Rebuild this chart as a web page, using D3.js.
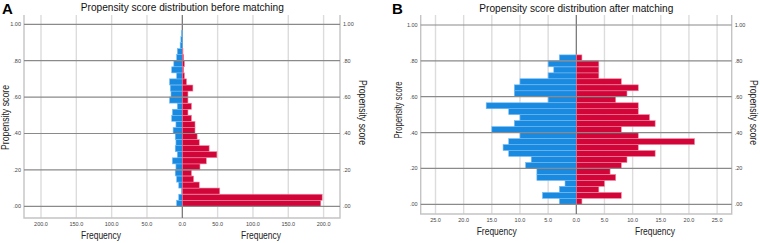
<!DOCTYPE html>
<html>
<head>
<meta charset="utf-8">
<script src="https://cdn.jsdelivr.net/npm/d3@7"></script>
<style>
  body { margin: 0; background: #fff; }
  svg { display: block; font-family: "Liberation Sans", Arial, sans-serif; }
</style>
</head>
<body>
<svg id="chart" width="760" height="243"></svg>
<script>
// lower edge of each propensity score bin (bin width 1/30)
const binStarts = [0.000, 0.033, 0.067, 0.100, 0.133, 0.167, 0.200, 0.233, 0.267, 0.300,
                   0.333, 0.367, 0.400, 0.433, 0.467, 0.500, 0.533, 0.567, 0.600, 0.633,
                   0.667, 0.700, 0.733, 0.767, 0.800, 0.833, 0.867, 0.900, 0.933];
const binWidth = 1 / 30;

// before matching (left = blue, right = red)
const blueBefore = [8, 5, 1, 5, 8, 10, 9, 14, 7, 10, 9, 10, 13, 9, 15, 14, 7, 18, 16, 17, 18, 8, 15, 12, 8, 7, 3, 2, 1];
const redBefore  = [196, 198, 53, 24, 16, 13, 25, 34, 49, 38, 24, 21, 18, 18, 13, 8, 13, 8, 8, 15, 6, 3, 2, 3, 2, 1, 0, 0, 0];

// after matching
const blueAfter = [3, 6, 3, 2, 7, 7, 9, 8, 12, 13, 12, 10, 15, 11, 10, 12, 16, 5, 11, 11, 10, 5, 4, 5, 3];
const redAfter  = [1, 8, 4, 5, 7, 6, 8, 9, 14, 11, 21, 11, 8, 14, 13, 11, 11, 7, 9, 11, 8, 4, 4, 4, 1];

const yTicks = [0, 0.2, 0.4, 0.6, 0.8, 1.0];
const yTickLabels = [".00", ".20", ".40", ".60", ".80", "1.00"];
const freqTicksA = [-200, -150, -100, -50, 0, 50, 100, 150, 200];
const freqTicksB = [-25, -20, -15, -10, -5, 0, 5, 10, 15, 20, 25];

const blue = "#1a89e0", blueEdge = "#74bdf4";
const red = "#d10538", redEdge = "#ee8aa3";

const svg = d3.select("#chart");

function drawPanel(p) {
  const g = svg.append("g");
  const x = d3.scaleLinear().domain([-p.xMax, p.xMax]).range([p.xLo, p.xHi]);
  const y = d3.scaleLinear().domain([0, 1]).range([p.y0, p.y1]);

  // vertical grid
  g.selectAll(".vgrid").data(p.xTicks).enter().append("line")
    .attr("x1", d => x(d)).attr("x2", d => x(d))
    .attr("y1", p.top).attr("y2", p.bottom)
    .attr("stroke", "#dcdcdc").attr("stroke-width", 1.4);

  // frame (left, right, bottom)
  g.append("path")
    .attr("d", `M${p.left},${p.top}V${p.bottom}H${p.right}V${p.top}`)
    .attr("fill", "none").attr("stroke", "#c4c4c4").attr("stroke-width", 1.4);

  // centre line
  g.append("line")
    .attr("x1", x(0)).attr("x2", x(0)).attr("y1", p.top).attr("y2", p.bottom)
    .attr("stroke", "#666").attr("stroke-width", 1);

  // bars
  const bars = g.append("g");
  bars.selectAll(".lb").data(p.leftVals).enter().append("rect")
    .filter(d => d > 0)
    .attr("x", d => x(-d)).attr("width", d => x(0) - x(-d))
    .attr("y", (d, i) => y(binStarts[i] + binWidth)).attr("height", (d, i) => y(binStarts[i]) - y(binStarts[i] + binWidth))
    .attr("fill", blue).attr("stroke", blueEdge).attr("stroke-width", 0.6);
  bars.selectAll(".rb").data(p.rightVals).enter().append("rect")
    .filter(d => d > 0)
    .attr("x", x(0)).attr("width", d => x(d) - x(0))
    .attr("y", (d, i) => y(binStarts[i] + binWidth)).attr("height", (d, i) => y(binStarts[i]) - y(binStarts[i] + binWidth))
    .attr("fill", red).attr("stroke", redEdge).attr("stroke-width", 0.6);

  // horizontal grid over bars
  g.selectAll(".hgrid").data(yTicks).enter().append("line")
    .attr("x1", p.left).attr("x2", p.right)
    .attr("y1", d => y(d)).attr("y2", d => y(d))
    .attr("stroke", "#8a8a8a").attr("stroke-width", 1.2);

  // y tick labels both sides
  g.selectAll(".yl").data(yTicks).enter().append("text")
    .attr("x", p.left - 3).attr("y", d => y(d)).attr("dy", "0.35em")
    .attr("text-anchor", "end").attr("font-size", 5.5).attr("fill", "#444")
    .text((d, i) => yTickLabels[i]);
  g.selectAll(".yr").data(yTicks).enter().append("text")
    .attr("x", p.right + 3).attr("y", d => y(d)).attr("dy", "0.35em")
    .attr("text-anchor", "start").attr("font-size", 5.5).attr("fill", "#444")
    .text((d, i) => yTickLabels[i]);

  // x tick labels
  g.selectAll(".xl").data(p.xTicks).enter().append("text")
    .attr("x", d => x(d)).attr("y", p.xTickY)
    .attr("text-anchor", "middle").attr("font-size", 5.5).attr("fill", "#444")
    .text(d => Math.abs(d).toFixed(1));

  // axis titles
  [p.freqLeftX, p.freqRightX].forEach(cx => {
    g.append("text").attr("x", cx).attr("y", p.freqY)
      .attr("text-anchor", "middle").attr("font-size", 10).attr("fill", "#222")
      .attr("textLength", 40).attr("lengthAdjust", "spacingAndGlyphs")
      .text("Frequency");
  });
  g.append("text")
    .attr("transform", `translate(${p.ylabL[0]},${p.ylabL[1]}) rotate(-90)`)
    .attr("text-anchor", "middle").attr("font-size", 10).attr("fill", "#222")
    .attr("textLength", p.ylabL[2]).attr("lengthAdjust", "spacingAndGlyphs")
    .text("Propensity score");
  g.append("text")
    .attr("transform", `translate(${p.ylabR[0]},${p.ylabR[1]}) rotate(90)`)
    .attr("text-anchor", "middle").attr("font-size", 10).attr("fill", "#222")
    .attr("textLength", 65).attr("lengthAdjust", "spacingAndGlyphs")
    .text("Propensity score");

  // title and panel letter
  g.append("text").attr("x", x(0)).attr("y", p.titleY)
    .attr("text-anchor", "middle").attr("font-size", 10.5).attr("fill", "#111")
    .attr("textLength", p.titleLen).attr("lengthAdjust", "spacingAndGlyphs")
    .text(p.title);
  g.append("text").attr("x", p.letterX).attr("y", 14)
    .attr("font-size", 15).attr("font-weight", "bold").attr("fill", "#000")
    .text(p.letter);
}

drawPanel({
  letter: "A", letterX: 2, title: "Propensity score distribution before matching", titleY: 11, titleLen: 203,
  left: 24, right: 340, top: 15, bottom: 218,
  xMax: 200, xLo: 41, xHi: 323.6, xTicks: freqTicksA,
  y0: 206.3, y1: 24.3,
  leftVals: blueBefore, rightVals: redBefore,
  xTickY: 225.5, freqY: 239, freqLeftX: 101, freqRightX: 261,
  ylabL: [9, 117.5, 65], ylabR: [359, 112.5]
});

drawPanel({
  letter: "B", letterX: 392, title: "Propensity score distribution after matching", titleY: 11.5, titleLen: 194,
  left: 420.7, right: 731.7, top: 15, bottom: 214,
  xMax: 25, xLo: 435.5, xHi: 717.1, xTicks: freqTicksB,
  y0: 204.3, y1: 25,
  leftVals: blueAfter, rightVals: redAfter,
  xTickY: 222, freqY: 235, freqLeftX: 496.7, freqRightX: 655,
  ylabL: [402, 110, 57], ylabR: [750, 112.5]
});
</script>
</body>
</html>
